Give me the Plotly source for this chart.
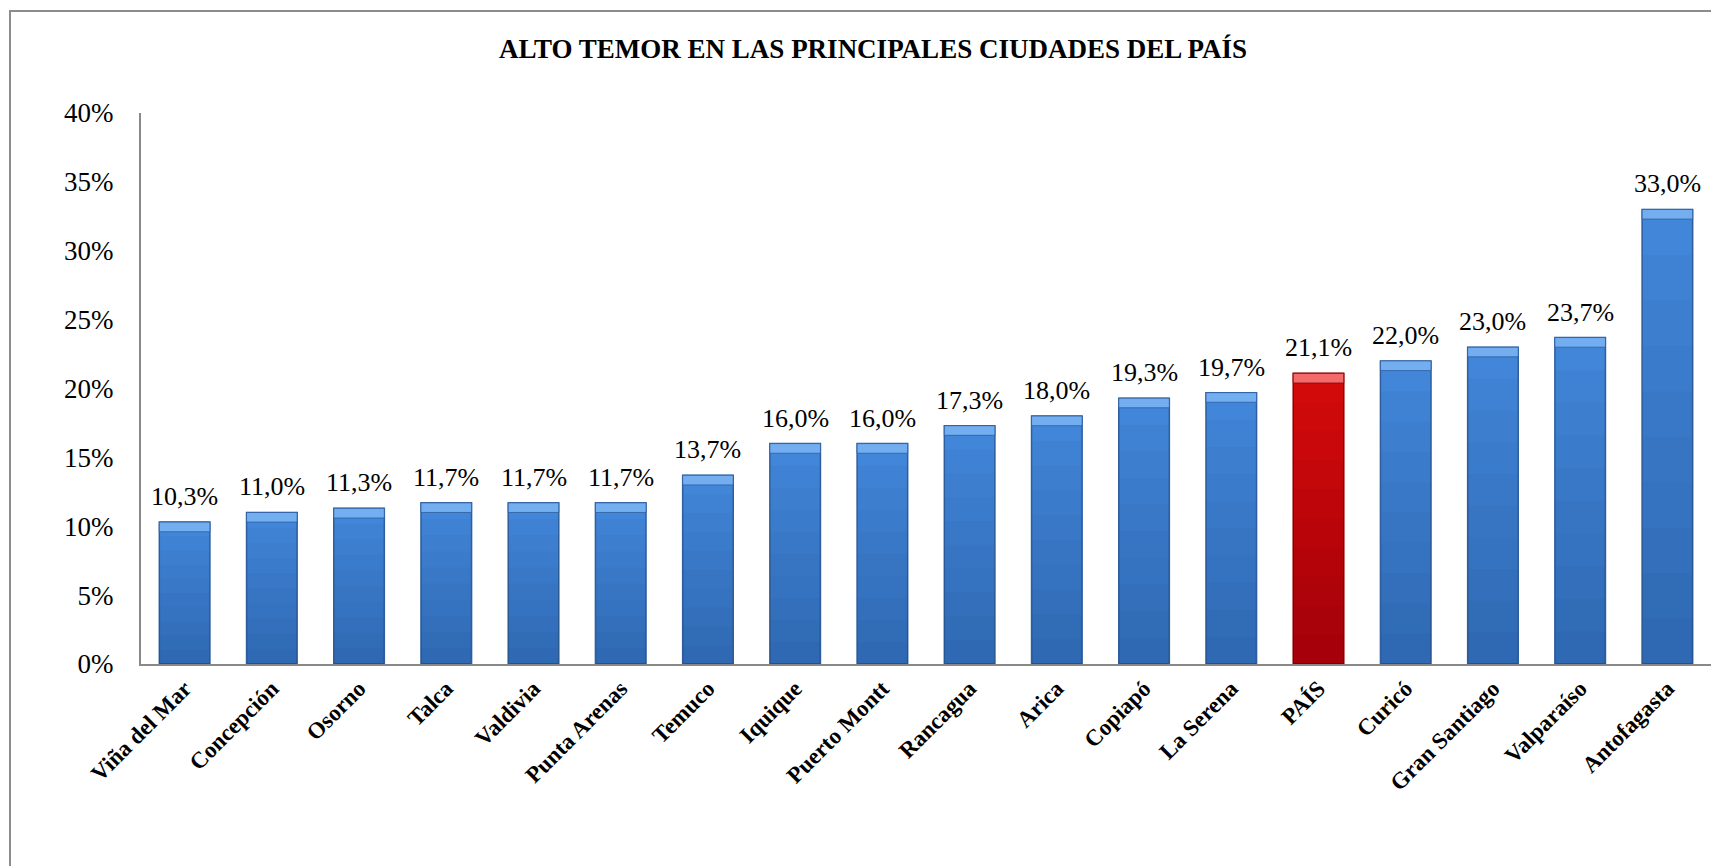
import plotly.graph_objects as go

categories = ["Viña del Mar", "Concepción", "Osorno", "Talca", "Valdivia", "Punta Arenas",
              "Temuco", "Iquique", "Puerto Montt", "Rancagua", "Arica", "Copiapó",
              "La Serena", "PAÍS", "Curicó", "Gran Santiago", "Valparaíso", "Antofagasta"]
values = [10.3, 11.0, 11.3, 11.7, 11.7, 11.7, 13.7, 16.0, 16.0, 17.3, 18.0, 19.3,
          19.7, 21.1, 22.0, 23.0, 23.7, 33.0]
highlight = "PAÍS"
y_ticks = [0, 5, 10, 15, 20, 25, 30, 35, 40]
y_tick_text = ["0%", "5%", "10%", "15%", "20%", "25%", "30%", "35%", "40%"]

# page has an 8px body margin; scrolling is disabled so the figure can reach the window bottom
W, H = 1703, 858
L, R, T, B = 133, 0, 105, 202

blue, blue_edge, blue_top = "#4186D8", "#2E5E9E", "#72AEF0"
red, red_edge, red_top = "#D20A0A", "#8E0000", "#F26A6A"

fill = [red if c == highlight else blue for c in categories]
edge = [red_edge if c == highlight else blue_edge for c in categories]
topc = [red_top if c == highlight else blue_top for c in categories]

serif = "Liberation Serif"
bar_w = 0.58
bevel = 0.7
shade_layers = 10

fig = go.Figure()
fig.add_trace(go.Bar(
    x=categories, y=values, marker=dict(color=fill, line=dict(color=edge, width=1.5)),
    width=bar_w, hoverinfo="x+y", showlegend=False))
for i in range(1, shade_layers):
    fig.add_trace(go.Bar(
        x=categories, y=[v * (1 - i / shade_layers) for v in values],
        marker=dict(color="rgba(0,0,30,0.024)", line=dict(width=0)),
        width=bar_w - 0.01, hoverinfo="skip", showlegend=False))
fig.add_trace(go.Bar(
    x=categories, y=[bevel] * len(values), base=[v - bevel for v in values],
    marker=dict(color=topc, line=dict(color=edge, width=0.8)),
    width=bar_w, hoverinfo="skip", showlegend=False))

for c, v in zip(categories, values):
    fig.add_annotation(x=c, y=v, xref="x", yref="y", text=f"{v:.1f}%".replace(".", ","),
                       showarrow=False, yanchor="bottom", yshift=9,
                       font=dict(family=serif, size=26, color="#000000"))

fig.update_layout(
    width=W, height=H, barmode="overlay",
    margin=dict(l=L, r=R, t=T, b=B, autoexpand=False),
    paper_bgcolor="white", plot_bgcolor="white",
    title=dict(text="<b>ALTO TEMOR EN LAS PRINCIPALES CIUDADES DEL PAÍS</b>",
               x=(865 - L) / (W - L - R), xref="paper", xanchor="center",
               y=1 - 41 / H, yref="container", yanchor="middle",
               font=dict(family=serif, size=27, color="#000000")),
    xaxis=dict(type="category", showgrid=False, showline=True, linecolor="#898989",
               linewidth=2, ticks="", tickangle=-45, automargin=False,
               tickfont=dict(family=serif, size=23, color="#000000", weight="bold")),
    yaxis=dict(range=[0, 40], tickmode="array", tickvals=y_ticks, ticktext=y_tick_text,
               showgrid=False, automargin=False,
               showline=True, linecolor="#898989", linewidth=2, ticks="",
               ticklabelstandoff=20, zeroline=False,
               tickfont=dict(family=serif, size=27, color="#000000")),
    shapes=[dict(type="rect", xref="paper", yref="paper",
                 x0=(2 - L) / (W - L - R), x1=(W + 20 - L) / (W - L - R),
                 y0=(B - H - 20) / (H - T - B), y1=(H - 3 - B) / (H - T - B),
                 line=dict(color="#8C8C8C", width=2), fillcolor="rgba(0,0,0,0)",
                 layer="below")],
)

fig.write_html("out.html", post_script="document.body.style.overflow='hidden';")
